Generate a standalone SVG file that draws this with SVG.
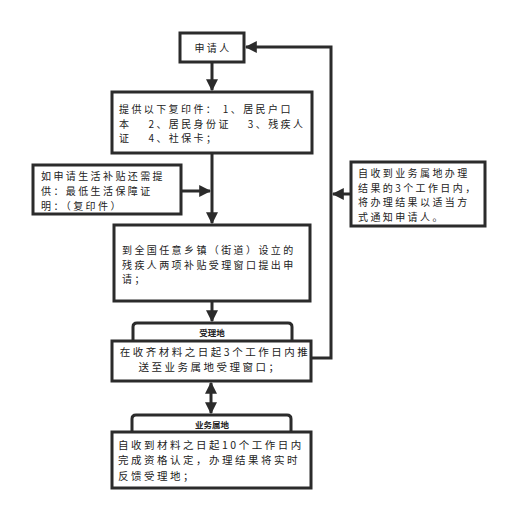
<svg xmlns="http://www.w3.org/2000/svg" width="506" height="510" viewBox="0 0 506 510">
<defs>
<marker id="ah" viewBox="0 0 10 10" refX="9" refY="5" markerWidth="4" markerHeight="4" orient="auto-start-reverse" markerUnits="strokeWidth">
<path d="M0,0 L10,5 L0,10 Z" fill="#2b2b2b"/>
</marker>
<style>
.box{fill:#fff;stroke:#2b2b2b;stroke-width:3}
.tab{fill:#fff;stroke:#2b2b2b;stroke-width:3}
.ln{fill:none;stroke:#2b2b2b;stroke-width:3}
.t{font-family:"Noto Sans CJK SC","Noto Sans",sans-serif;font-size:10px;letter-spacing:2.4px;fill:#222;white-space:pre}
.tb{font-family:"Noto Sans CJK SC","Noto Sans",sans-serif;font-size:10.5px;letter-spacing:2.5px;fill:#222;white-space:pre}
.lab{font-family:"Noto Sans CJK SC","Noto Sans",sans-serif;font-size:8.5px;font-weight:bold;fill:#222;text-anchor:middle}
</style>
</defs>
<rect width="506" height="510" fill="#fff"/>
<g id="connectors">
<line class="ln" x1="212" y1="62" x2="212" y2="90" marker-end="url(#ah)"/>
<line class="ln" x1="212" y1="153" x2="212" y2="223" marker-end="url(#ah)"/>
<line class="ln" x1="181" y1="191" x2="210" y2="191" marker-end="url(#ah)"/>
<line class="ln" x1="212" y1="301" x2="212" y2="321" marker-end="url(#ah)"/>
<polyline class="ln" points="311,358 331,358 331,47 246,47" marker-end="url(#ah)"/>
<line class="ln" x1="351" y1="194" x2="333" y2="194" marker-end="url(#ah)"/>
<line class="ln" x1="211" y1="383" x2="211" y2="413" marker-start="url(#ah)" marker-end="url(#ah)"/>
</g>
<g id="applicant">
<rect class="box" x="180" y="33" width="64" height="29"/>
<text class="t" x="213" y="51.5" text-anchor="middle">申请人</text>
</g>
<g id="documents">
<rect class="box" x="112" y="92" width="200" height="61"/>
<text class="t" x="119" y="113">提供以下复印件： 1、居民户口</text>
<text class="t" x="119" y="127.5">本　 2、居民身份证　 3、残疾人</text>
<text class="t" x="119" y="142">证　 4、社保卡；</text>
</g>
<g id="supplement">
<rect class="box" x="33" y="165" width="148" height="49"/>
<text class="t" x="41" y="180">如申请生活补贴还需提</text>
<text class="t" x="41" y="195">供：最低生活保障证</text>
<text class="t" x="41" y="210">明：（复印件）</text>
</g>
<g id="apply">
<rect class="box" x="114" y="225" width="196" height="76"/>
<text class="t" x="122" y="254">到全国任意乡镇（街道）设立的</text>
<text class="t" x="122" y="268.5">残疾人两项补贴受理窗口提出申</text>
<text class="t" x="122" y="283">请；</text>
</g>
<g id="notify">
<rect class="box" x="351" y="162" width="134" height="64"/>
<text class="t" x="358" y="177">自收到业务属地办理</text>
<text class="t" x="358" y="191.5">结果的3个工作日内，</text>
<text class="t" x="358" y="206">将办理结果以适当方</text>
<text class="t" x="358" y="220.5">式通知申请人。</text>
</g>
<g id="acceptance">
<path class="tab" d="M133,341 L133,327 Q133,323 137,323 L288,323 Q292,323 292,327 L292,341"/>
<text class="lab" x="212" y="336">受理地</text>
<rect class="box" x="112" y="341" width="199" height="40"/>
<text class="tb" x="215" y="356" text-anchor="middle">在收齐材料之日起3个工作日内推</text>
<text class="tb" x="210" y="371.2" text-anchor="middle">送至业务属地受理窗口；</text>
</g>
<g id="local">
<path class="tab" d="M132,432 L132,419 Q132,415 136,415 L287,415 Q291,415 291,419 L291,432"/>
<text class="lab" x="212" y="428">业务属地</text>
<rect class="box" x="112" y="432" width="199" height="56"/>
<text class="tb" x="118" y="448.5">自收到材料之日起10个工作日内</text>
<text class="tb" x="118" y="464">完成资格认定，办理结果将实时</text>
<text class="tb" x="118" y="479.5">反馈受理地；</text>
</g>
</svg>
